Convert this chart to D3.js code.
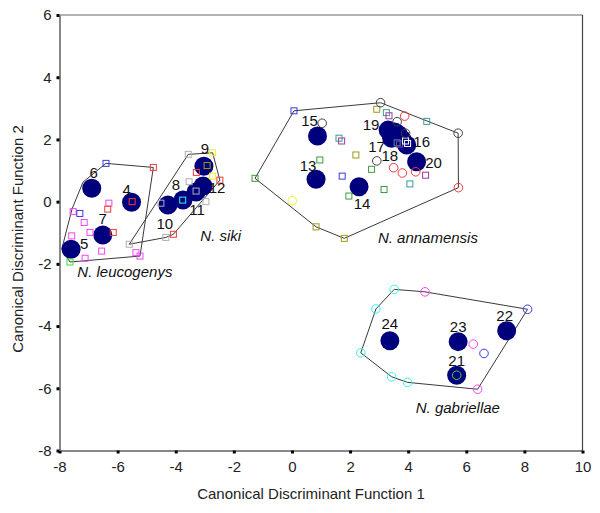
<!DOCTYPE html>
<html><head><meta charset="utf-8">
<script src="https://cdn.jsdelivr.net/npm/d3@7"></script>
<style>
body{margin:0;background:#fff;}
text{font-family:"Liberation Sans",Arial,sans-serif;}
</style></head>
<body><svg id="chart" width="600" height="513"></svg>
<script>
// ---------- data ----------
const xTicks = [-8,-6,-4,-2,0,2,4,6,8,10];
const yTicks = [-8,-6,-4,-2,0,2,4,6];
const xTitle = "Canonical Discriminant Function 1";
const yTitle = "Canonical Discriminant Function 2";

// group centroids (id, x, y)
const centroidIds = [5,6,4,7,10,8,11,12,9,15,13,14,1,2,3,19,17,16,20,24,23,21,22];
const centroidX = [-7.60,-6.89,-5.52,-6.51,-4.27,-3.75,-3.30,-3.06,-3.03,0.88,0.83,2.31,3.65,3.78,3.53,3.31,3.43,3.95,4.29,3.37,5.72,5.67,7.39];
const centroidY = [-1.53,0.43,-0.02,-1.07,-0.11,0.05,0.31,0.50,1.14,2.11,0.72,0.48,2.17,2.01,2.24,2.30,2.04,1.82,1.28,-4.47,-4.50,-5.58,-4.15];
const hiddenLabels = [1,2,3];

// individual specimens: x, y, marker type (s=square, c=circle), population colour code
const leucoX = [-6.40,-4.77,-5.50,-6.30,-6.34,-7.53,-7.30,-7.15,-6.95,-6.15,-7.58,-6.55,-7.12,-5.37,-5.23,-7.64];
const leucoY = [1.23,1.10,0.00,-0.05,-0.24,-0.32,-0.38,-0.67,-0.99,-0.99,-1.10,-1.59,-1.82,-1.64,-1.75,-1.94];
const leucoC = ["blue","red","red","magenta","red","magenta","blue","magenta","magenta","red","magenta","magenta","magenta","magenta","magenta","green"];

const sikiX = [-3.57,-2.73,-2.92,-3.29,-2.73,-3.54,-2.48,-3.30,-3.76,-4.51,-2.96,-5.60,-4.34,-4.08];
const sikiY = [1.52,1.57,1.16,0.94,0.82,0.64,0.69,0.34,0.05,-0.05,0.00,-1.37,-1.15,-1.05];
const sikiC = ["gray","yellow","olive","red","yellow","gray","red","gray","cyan","gray","gray","gray","gray","red"];

const annaX = [0.07,3.05,2.92,3.25,3.34,3.88,4.64,3.62,5.72,1.04,1.62,1.71,3.91,3.62,3.70,3.91,3.98,2.20,0.96,2.92,2.74,3.50,3.80,4.26,4.60,1.73,-1.27,4.06,5.73,3.17,1.96,0.01,0.83,1.80];
const annaY = [2.92,3.18,2.97,2.86,2.76,2.75,2.58,2.57,2.20,2.52,2.04,1.95,2.20,1.89,1.85,1.95,1.87,1.50,1.34,1.31,1.04,1.09,0.92,0.96,0.85,0.82,0.75,0.57,0.45,0.39,0.18,0.03,-0.81,-1.18];
const annaM = ["s","c","s","s","s","c","s","c","c","c","s","s","c","s","s","s","s","s","s","c","s","c","c","c","s","s","s","s","c","s","s","c","s","s"];
const annaC = ["blue","black","olive","teal","purple","red","teal","black","black","black","teal","purple","black","teal","purple","white","white","olive","green2","black","green2","red","red","red","purple","blue","green2","teal","red","green2","green2","yellow","olive","olive"];

const gabX = [3.52,4.58,8.11,2.89,6.24,6.61,2.37,5.67,3.43,3.98,6.39];
const gabY = [-2.82,-2.90,-3.46,-3.45,-4.58,-4.88,-4.86,-5.58,-5.63,-5.81,-6.03];
const gabC = ["cyan","magenta","blue","cyan","magenta","blue","cyan","green","cyan","cyan","magenta"];

// convex hulls (vertex coordinates)
const hullLeucoX = [-6.40,-4.77,-5.23,-7.64,-7.92,-7.57,-7.19];
const hullLeucoY = [1.23,1.10,-1.75,-1.94,-1.52,-0.24,0.63];
const hullSikiX = [-5.60,-3.57,-2.73,-2.48,-4.08,-4.34];
const hullSikiY = [-1.37,1.52,1.57,0.69,-1.05,-1.15];
const hullAnnaX = [0.07,3.05,5.72,5.73,1.80,0.83,-1.27];
const hullAnnaY = [2.92,3.18,2.20,0.45,-1.18,-0.81,0.75];
const hullGabX = [3.52,4.58,8.11,6.39,3.98,3.43,2.37,2.89];
const hullGabY = [-2.82,-2.90,-3.46,-6.03,-5.81,-5.63,-4.86,-3.45];

const speciesNames = ["N. leucogenys","N. siki","N. annamensis","N. gabriellae"];
const speciesLabelX = [-5.75,-2.45,4.68,5.71];
const speciesLabelY = [-2.26,-1.10,-1.15,-6.63];

// ---------- styling / layout ----------
const palette = {blue:"#3a3adf",red:"#f23a3a",magenta:"#f246f2",green:"#3fdc3f",green2:"#3c9a3c",gray:"#b0b0b0",
  yellow:"#f2f21a",olive:"#9a9a1a",teal:"#3a9a9a",purple:"#9a3a9a",cyan:"#3af2f2",black:"#404040",white:"#ffffff"};
const labelOffset = {5:[13,-6],6:[2,-16],4:[-5,-13],7:[0,-16],10:[-3,19],8:[-7,-15],11:[1,18],12:[14,2],9:[1,-18],
  15:[-8,-15],13:[-8,-14],14:[3,17],19:[-17,-5],17:[-15,8],16:[15,-3],20:[17,1],24:[0,-17],23:[0,-15],21:[0,-15],22:[-2,-15]};
const label18 = [3.37,1.47];
const FS = 15;

const svg = d3.select("#chart");
const x = d3.scaleLinear().domain([-8,10]).range([59.5,582.5]);
const y = d3.scaleLinear().domain([-8,6]).range([450.5,15]);

// frame
svg.append("line").attr("x1",x(-8)).attr("x2",x(10)).attr("y1",y(6)).attr("y2",y(6)).attr("stroke","#666").attr("stroke-width",1.2);
svg.append("line").attr("x1",x(10)).attr("x2",x(10)).attr("y1",y(6)).attr("y2",y(-8)).attr("stroke","#444").attr("stroke-width",1.2);

const fmt = d => String(d);
const xAxis = svg.append("g").attr("transform",`translate(0,${y(-8)})`)
  .call(d3.axisBottom(x).tickValues(xTicks).tickSize(3).tickPadding(8).tickSizeOuter(0).tickFormat(fmt));
const yAxis = svg.append("g").attr("transform",`translate(${x(-8)},0)`)
  .call(d3.axisLeft(y).tickValues(yTicks).tickSize(3).tickPadding(5).tickSizeOuter(0).tickFormat(fmt));
[xAxis,yAxis].forEach(a=>{
  a.select(".domain").attr("stroke","#888").attr("stroke-width",2);
  a.selectAll(".tick line").attr("stroke","#000").attr("stroke-width",3);
  a.selectAll(".tick text").attr("font-size",FS).attr("fill","#222").attr("font-family","Liberation Sans, Arial, sans-serif");
});

svg.append("text").attr("x",311).attr("y",499).attr("text-anchor","middle").attr("font-size",FS).attr("fill","#222").text(xTitle);
svg.append("text").attr("transform",`translate(23,239) rotate(-90)`).attr("text-anchor","middle").attr("font-size",FS).attr("fill","#222").text(yTitle);

// hulls
const hulls = [[hullLeucoX,hullLeucoY],[hullSikiX,hullSikiY],[hullAnnaX,hullAnnaY],[hullGabX,hullGabY]];
const line = d3.line().x(d=>x(d[0])).y(d=>y(d[1])).curve(d3.curveLinearClosed);
hulls.forEach(([hx,hy])=>{
  svg.append("path").attr("d",line(hx.map((v,i)=>[v,hy[i]]))).attr("fill","none").attr("stroke","#3a3a3a").attr("stroke-width",1);
});

// centroids
const cents = centroidIds.map((id,i)=>({id,x:centroidX[i],y:centroidY[i]}));
svg.append("g").selectAll("circle").data(cents).join("circle")
  .attr("cx",d=>x(d.x)).attr("cy",d=>y(d.y)).attr("r",9.5).attr("fill","#00007d");

// specimens
const pts = [];
leucoX.forEach((v,i)=>pts.push({x:v,y:leucoY[i],m:"s",c:leucoC[i]}));
sikiX.forEach((v,i)=>pts.push({x:v,y:sikiY[i],m:"s",c:sikiC[i]}));
annaX.forEach((v,i)=>pts.push({x:v,y:annaY[i],m:annaM[i],c:annaC[i]}));
gabX.forEach((v,i)=>pts.push({x:v,y:gabY[i],m:"c",c:gabC[i]}));
const g = svg.append("g").attr("fill","none").attr("stroke-width",1);
g.selectAll("rect").data(pts.filter(d=>d.m==="s")).join("rect")
  .attr("x",d=>x(d.x)-3).attr("y",d=>y(d.y)-3).attr("width",6).attr("height",6).attr("stroke",d=>palette[d.c]);
g.selectAll("circle").data(pts.filter(d=>d.m==="c")).join("circle")
  .attr("cx",d=>x(d.x)).attr("cy",d=>y(d.y)).attr("r",4.3).attr("stroke",d=>palette[d.c]);

// centroid labels
svg.append("g").selectAll("text").data(cents.filter(d=>!hiddenLabels.includes(d.id))).join("text")
  .attr("x",d=>x(d.x)+labelOffset[d.id][0]).attr("y",d=>y(d.y)+labelOffset[d.id][1])
  .attr("dy","0.36em").attr("text-anchor","middle").attr("font-size",FS).attr("fill","#111").text(d=>d.id);
svg.append("text").attr("x",x(label18[0])).attr("y",y(label18[1])).attr("dy","0.36em")
  .attr("text-anchor","middle").attr("font-size",FS).attr("fill","#111").text(18);

// species labels
svg.append("g").selectAll("text").data(speciesNames).join("text")
  .attr("x",(d,i)=>x(speciesLabelX[i])).attr("y",(d,i)=>y(speciesLabelY[i]))
  .attr("dy","0.36em").attr("text-anchor","middle").attr("font-size",FS).attr("font-style","italic").attr("fill","#111").text(d=>d);
</script></body></html>
